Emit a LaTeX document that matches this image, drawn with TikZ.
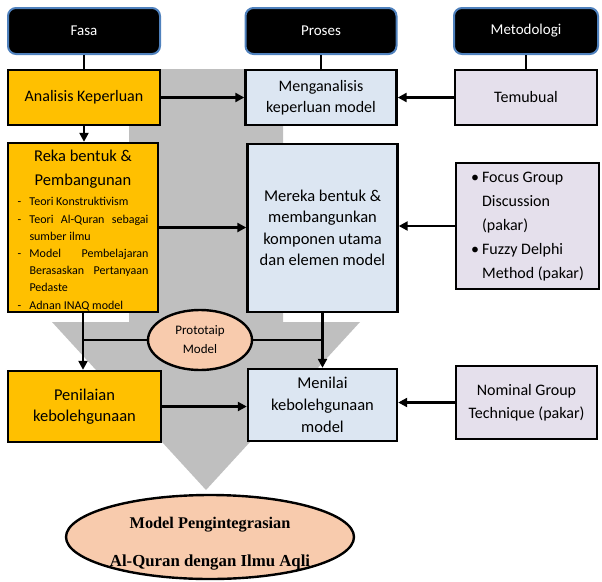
\documentclass[tikz,border=0pt]{standalone}
\usepackage{fontspec}
\setmainfont{Carlito}
\newfontfamily\timesfont{Liberation Serif}
\usetikzlibrary{arrows.meta,shapes.geometric}
\definecolor{yel}{HTML}{FFC000}
\definecolor{lblue}{HTML}{DCE6F2}
\definecolor{lav}{HTML}{E5E0EC}
\definecolor{peach}{HTML}{F8CBAD}
\definecolor{graybg}{HTML}{BFBFBF}
\definecolor{hdrblue}{HTML}{4F81BD}
\newcommand\rekaitem{\noindent\hangindent=12pt\hangafter=0\leavevmode\llap{\makebox[12pt][l]{-}}}
\begin{document}
\begin{tikzpicture}[x=1pt,y=-1pt,
  hdr/.style={draw=hdrblue, fill=black, text=white, rounded corners=8pt, line width=2pt,
    minimum height=46pt, inner sep=0pt, font=\fontsize{15}{18}\selectfont},
  box/.style={draw=black, line width=2.4pt, rectangle, inner sep=2pt, align=center,
    font=\fontsize{16}{21}\selectfont},
  ybox/.style={box, fill=yel},
  bbox/.style={box, fill=lblue},
  lbox/.style={box, fill=lav},
  oval/.style={ellipse, draw=black, line width=2.4pt, fill=peach, inner sep=0pt, align=center},
  conn/.style={line width=2.4pt},
  arr/.style={conn, -{Triangle[length=9pt,width=9pt]}}]
\useasboundingbox (0,0) rectangle (602,581);
% big gray arrow
\fill[graybg] (129,69) -- (283,69) -- (283,322) -- (360,322) -- (206,490) -- (52,322) -- (129,322) -- cycle;
% headers
\node[hdr, minimum width=152pt] (fasa) at (84,31) {Fasa};
\node[hdr, minimum width=151pt] (proses) at (321,31) {Proses};
\node[hdr, minimum width=144pt] (metod) at (526,31) {Metodologi};
% row 1
\node[ybox, minimum width=152pt, minimum height=55pt] (analisis) at (84,97.5) {Analisis Keperluan};
\node[bbox, minimum width=151pt, minimum height=55pt] (mengan) at (321,97.5) {Menganalisis\\keperluan model};
\node[lbox, minimum width=142pt, minimum height=55pt] (temubual) at (526,97.5) {Temubual};
% row 2
\node[ybox, minimum width=150pt, minimum height=169pt, font=\fontsize{12}{17.2}\selectfont] (reka) at (83,227.5) {%
  \raisebox{-3pt}[\height][\depth]{\parbox{131pt}{%
  {\centering\fontsize{16.5}{24}\selectfont Reka bentuk \&\par Pembangunan\par}
  \vspace{3pt}
  \rekaitem Teori Konstruktivism\par
  \rekaitem Teori Al-Quran sebagai\linebreak sumber ilmu\par
  \rekaitem Model Pembelajaran\linebreak Berasaskan Pertanyaan\linebreak Pedaste\par
  \rekaitem Adnan INAQ model}}};
\node[bbox, minimum width=150pt, minimum height=168pt, font=\fontsize{16.5}{21.5}\selectfont] (mereka) at (322.5,228)
  {Mereka bentuk \&\\membangunkan\\komponen utama\\dan elemen model};
\node[lbox, minimum width=143pt, minimum height=126pt, font=\fontsize{16}{24}\selectfont] (focus) at (527.5,226)
  {\begin{tabular}{@{}l@{\hspace{3pt}}l@{}}•&Focus Group\\&Discussion\\&(pakar)\\•&Fuzzy Delphi\\&Method (pakar)\end{tabular}};
% row 3
\node[ybox, minimum width=153pt, minimum height=71pt, font=\fontsize{16.5}{20.5}\selectfont] (penilaian) at (84.5,406.5) {Penilaian\\kebolehgunaan};
\node[bbox, minimum width=149pt, minimum height=72pt, font=\fontsize{16.5}{22}\selectfont] (menilai) at (322.5,405) {Menilai\\kebolehgunaan\\model};
\node[lbox, minimum width=141pt, minimum height=73pt, font=\fontsize{16}{23}\selectfont] (nominal) at (526.5,402.5) {Nominal Group\\Technique (pakar)};
% ovals
\node[oval, minimum width=104pt, minimum height=60pt, font=\fontsize{13}{19}\selectfont] (proto) at (200,340) {Prototaip\\Model};
\node[oval, minimum width=288pt, minimum height=84pt, font=\timesfont\bfseries\fontsize{16.3}{38}\selectfont] (final) at (210,537)
  {\makebox[100pt]{\raisebox{-7pt}[12pt][12pt]{\begin{tabular}{@{}c@{}}Model Pengintegrasian\\{\fontsize{16.8}{38}\selectfont Al-Quran dengan Ilmu Aqli}\end{tabular}}}};
% connectors
\draw[conn] (fasa) -- (analisis);
\draw[conn] (proses) -- (mengan);
\draw[conn] (metod) -- (temubual);
\draw[arr] (analisis) -- (mengan);
\draw[arr] (temubual) -- (mengan);
\draw[arr] (analisis.south) -- (analisis.south |- reka.north);
\draw[arr] (reka.east) -- (reka.east -| mereka.west);
\draw[arr] (focus.west) -- (focus.west -| mereka.east);
\draw[arr] (reka.south) -- (reka.south |- penilaian.north);
\draw[conn] (proto.west) -- (proto.west -| reka.south);
\draw[conn] (proto.east) -- (proto.east -| mereka.south);
\draw[arr] (mereka.south) -- (menilai.north);
\draw[arr] (penilaian.east) -- (penilaian.east -| menilai.west);
\draw[arr] (nominal.west) -- (nominal.west -| menilai.east);
\end{tikzpicture}
\end{document}
